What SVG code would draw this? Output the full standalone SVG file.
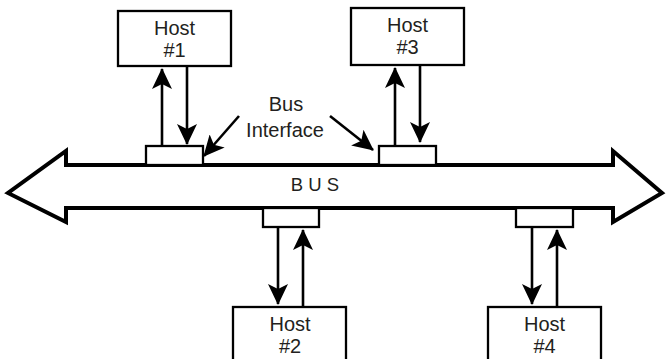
<svg xmlns="http://www.w3.org/2000/svg" width="666" height="359" viewBox="0 0 666 359">
<style>
.box{fill:#fff;stroke:#000;stroke-width:2.3}
.ifc{fill:#fff;stroke:#000;stroke-width:2.3}
.bus{fill:#fff;stroke:#000;stroke-width:4;stroke-linejoin:miter}
.lbl{font-family:"Liberation Sans",Arial,sans-serif;font-size:20px;fill:#231f20;text-anchor:middle}
.conn line{stroke:#000;stroke-width:2.6;fill:none;marker-end:url(#ah)}
</style>
<defs>
<marker id="ah" markerUnits="userSpaceOnUse" viewBox="0 0 21 20" markerWidth="21" markerHeight="20" refX="20" refY="10" orient="auto">
<path d="M0,0 L21,10 L0,20 L5,10 Z" fill="#000"/>
</marker>
</defs>
<g id="bus">
<path class="bus" d="M66,165 H613 V151 L662,193 L613,222 V208 H66 V222 L8,193 L66,151 Z"/>
<text class="lbl" x="315" y="191" style="font-size:18.5px">B U S</text>
</g>
<g id="ifc1"><rect class="ifc" x="146" y="146" width="57" height="19"/></g>
<g id="ifc3"><rect class="ifc" x="379" y="146" width="57" height="19"/></g>
<g id="ifc2"><rect class="ifc" x="263" y="208" width="56" height="19"/></g>
<g id="ifc4"><rect class="ifc" x="516" y="208" width="57" height="19"/></g>
<g id="host1"><rect class="box" x="118" y="11" width="113" height="55"/><text class="lbl" x="174.5" y="34.5">Host</text><text class="lbl" x="174.5" y="57">#1</text></g>
<g id="host3"><rect class="box" x="351" y="8" width="113" height="57"/><text class="lbl" x="407.5" y="32">Host</text><text class="lbl" x="407.5" y="54">#3</text></g>
<g id="host2"><rect class="box" x="233" y="307" width="113" height="70"/><text class="lbl" x="290" y="330.7">Host</text><text class="lbl" x="290" y="352.7">#2</text></g>
<g id="host4"><rect class="box" x="488" y="307" width="113" height="70"/><text class="lbl" x="544.5" y="330.7">Host</text><text class="lbl" x="544.5" y="352.7">#4</text></g>
<g id="busif-label"><text class="lbl" x="286" y="111">Bus</text><text class="lbl" x="285" y="137">Interface</text></g>
<g id="connectors" class="conn">
<line x1="162" y1="146" x2="162" y2="69"/>
<line x1="187" y1="66" x2="187" y2="144"/>
<line x1="395" y1="146" x2="395" y2="68"/>
<line x1="420" y1="65" x2="420" y2="142"/>
<line x1="278" y1="227" x2="278" y2="304"/>
<line x1="303" y1="307" x2="303" y2="230"/>
<line x1="532" y1="227" x2="532" y2="304"/>
<line x1="557" y1="307" x2="557" y2="230"/>
<line x1="239" y1="116" x2="204" y2="156"/>
<line x1="330" y1="116" x2="373" y2="150"/>
</g>
</svg>
